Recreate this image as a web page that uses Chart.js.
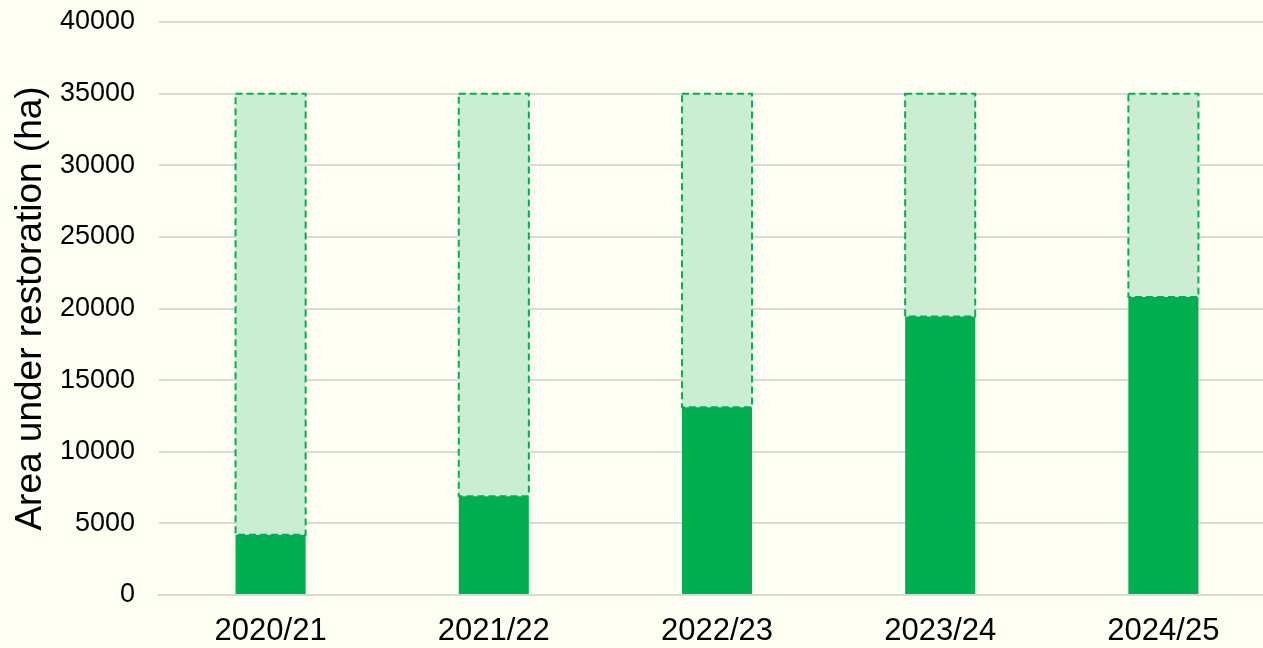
<!DOCTYPE html>
<html>
<head>
<meta charset="utf-8">
<script src="https://cdn.jsdelivr.net/npm/chart.js@4"></script>
<style>
  html, body { margin: 0; padding: 0; background: #fefef2; overflow: hidden; }
  /* the source image is cropped on the right, so the canvas runs past the window */
  #wrap { width: 1275px; height: 648px; }
</style>
</head>
<body>
<div id="wrap"><canvas id="chart"></canvas></div>
<script>
const years = ["2020/21", "2021/22", "2022/23", "2023/24", "2024/25"];
const achieved = [4200, 6900, 13100, 19450, 20800]; // ha under restoration
const target = [35000, 35000, 35000, 35000, 35000];
const yTicks = { min: 0, max: 40000, step: 5000 };

const SOLID = "#00b050";
const LIGHT = "#cbedd2";

// remaining part of the target, drawn on top of the achieved bar
const remaining = target.map((t, i) => t - achieved[i]);

// bars in Chart.js have no borderDash, so the outline is drawn here
const dashedOutline = {
  id: "dashedOutline",
  afterDatasetsDraw(chart) {
    const meta = chart.getDatasetMeta(1);
    const ctx = chart.ctx;
    ctx.save();
    ctx.strokeStyle = SOLID;
    ctx.lineWidth = 2;
    ctx.setLineDash([7, 4]);
    meta.data.forEach((bar) => {
      const left = bar.x - bar.width / 2;
      ctx.strokeRect(left, bar.y, bar.width, bar.base - bar.y);
    });
    ctx.restore();
  },
};

new Chart(document.getElementById("chart"), {
  type: "bar",
  data: {
    labels: years,
    datasets: [
      {
        label: "Achieved",
        data: achieved,
        backgroundColor: SOLID,
        borderWidth: 0,
      },
      {
        label: "Target",
        data: remaining,
        backgroundColor: LIGHT,
        borderWidth: 0,
      },
    ],
  },
  options: {
    responsive: true,
    maintainAspectRatio: false,
    animation: false,
    layout: { padding: { top: 22, right: 0, left: 9, bottom: 0 } },
    datasets: {
      bar: { barPercentage: 0.314, categoryPercentage: 1 },
    },
    scales: {
      x: {
        stacked: true,
        grid: { display: false },
        border: { color: "#d9d9d9", width: 2 },
        ticks: {
          color: "#000",
          font: { family: "Liberation Sans", size: 31 },
          padding: 10,
        },
        afterFit: (scale) => { scale.height = 53; },
      },
      y: {
        stacked: true,
        min: yTicks.min,
        max: yTicks.max,
        ticks: {
          stepSize: yTicks.step,
          color: "#000",
          font: { family: "Liberation Sans", size: 27 },
          padding: 24,
          callback: (v) => String(v),
        },
        grid: { color: "#d9d9d9", lineWidth: 2, drawTicks: false },
        border: { display: false },
        title: {
          display: true,
          text: "Area under restoration (ha)",
          color: "#000",
          font: { family: "Liberation Sans", size: 37 },
          padding: { top: 0, bottom: 2 },
        },
        afterFit: (scale) => {
          scale.width = 150;
          scale.paddingTop = 0;
          scale.paddingBottom = 0;
        },
      },
    },
    plugins: {
      legend: { display: false },
      tooltip: { enabled: false },
    },
  },
  plugins: [dashedOutline],
});
</script>
</body>
</html>
